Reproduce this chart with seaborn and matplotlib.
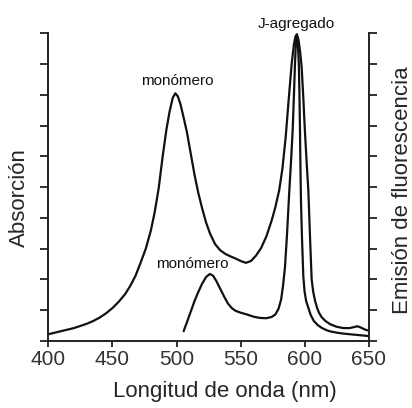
import numpy as np
import pandas as pd
import matplotlib
matplotlib.use("Agg")
import matplotlib.pyplot as plt
import seaborn as sns

# Absorption spectrum (wavelength nm, arbitrary units 0-10)
abs_wl = [400, 405, 410, 415, 420, 425, 430, 435, 440, 445, 450, 455, 460, 464, 468,
          472, 476, 480, 483, 486, 489, 492, 494.5, 497, 499, 501, 503, 505, 508, 511,
          514, 517, 520, 523, 526, 530, 534, 538, 542, 546, 550, 554, 558, 562, 566,
          570, 574, 577, 580, 582.5, 585, 587.5, 589.7, 591.5, 592.7, 593.8, 595,
          596.3, 597.5, 598.8, 600, 601.4, 602.7, 604, 605.3, 606.5, 608, 609.5, 611,
          613, 616, 620, 625, 630, 635, 638, 641, 644, 647, 650]
abs_val = [0.22, 0.27, 0.32, 0.37, 0.42, 0.49, 0.56, 0.65, 0.76, 0.9, 1.07, 1.28, 1.53, 1.8, 2.12,
           2.55, 3.0, 3.6, 4.2, 4.95, 5.95, 6.85, 7.45, 7.9, 8.05, 7.95, 7.7, 7.35, 6.8, 6.1,
           5.4, 4.8, 4.3, 3.85, 3.5, 3.15, 2.95, 2.83, 2.75, 2.68, 2.6, 2.54, 2.6, 2.78, 3.03,
           3.4, 3.9, 4.35, 4.9, 5.6, 6.6, 7.9, 9.0, 9.65, 9.9, 9.97, 9.8,
           9.4, 8.9, 7.9, 6.85, 5.8, 4.9, 3.4, 2.0, 1.6, 1.3, 1.08, 0.92,
           0.78, 0.65, 0.54, 0.46, 0.42, 0.42, 0.45, 0.48, 0.43, 0.37, 0.33]

# Fluorescence emission spectrum
em_wl = [505.5, 508, 511, 514, 517, 520, 523, 526, 528.5, 531, 534, 537, 540, 543, 546,
         550, 555, 560, 565, 570, 574, 577, 579.5, 581.5, 583, 584.5, 586, 587.9, 589.3,
         590.5, 591.5, 592.3, 593, 593.7, 594.5, 595.3, 595.8, 596.2, 596.6, 597, 597.8,
         598.8, 599.8, 601, 602.7, 604.5, 607, 610, 613, 617, 620, 625, 630, 635, 640,
         645, 650]
em_val = [0.32, 0.6, 0.95, 1.3, 1.6, 1.87, 2.08, 2.18, 2.12, 1.95, 1.7, 1.45, 1.22, 1.07, 0.98,
          0.92, 0.86, 0.79, 0.75, 0.74, 0.78, 0.86, 1.05, 1.35, 1.8, 2.4, 3.4, 4.9, 5.9,
          6.85, 8.0, 9.0, 9.7, 9.95, 9.7, 9.0, 8.0, 6.85, 5.5, 4.5, 3.3,
          2.1, 1.6, 1.3, 1.08, 0.85, 0.65, 0.52, 0.43, 0.35, 0.31, 0.27, 0.24, 0.22, 0.2,
          0.18, 0.16]

x_ticks = [400, 450, 500, 550, 600, 650]
y_ticks = list(range(0, 11))

labels = {"monomer_abs": "monómero", "monomer_em": "monómero", "jagg": "J-agregado"}

sns.set_style("ticks")
plt.rcParams['font.family'] = ['Liberation Sans', 'DejaVu Sans']

fig = plt.figure(figsize=(4.12, 4.08), dpi=100)
ax = fig.add_axes([48.3/412, 1-341/408, (369-48.3)/412, (341-33.3)/408])

df_abs = pd.DataFrame({"wl": abs_wl, "val": abs_val})
df_em = pd.DataFrame({"wl": em_wl, "val": em_val})
sns.lineplot(data=df_abs, x="wl", y="val", ax=ax, color="#111111", lw=1.6)
sns.lineplot(data=df_em, x="wl", y="val", ax=ax, color="#111111", lw=1.6)
for ln in ax.lines:
    ln.set_solid_joinstyle("round")

ax.set_xlim(400, 650)
ax.set_ylim(0, 10)
ax.set_xticks(x_ticks)
ax.set_yticks(y_ticks)
ax.set_yticklabels([])
ax.set_xlabel("")
ax.set_ylabel("")
ax.tick_params(axis="x", direction="out", length=4.5, width=1.3, colors="#222222",
               labelsize=15, labelcolor="#333333", pad=2)
ax.tick_params(axis="y", direction="out", length=5.5, width=1.3, colors="#222222",
               left=True, right=True)
for s in ["left", "right", "bottom"]:
    ax.spines[s].set_visible(True)
    ax.spines[s].set_linewidth(1.4)
    ax.spines[s].set_color("#222222")
ax.spines["top"].set_visible(False)

ax.text(500.7, 8.44, labels["monomer_abs"], ha="center", va="center", fontsize=11, color="#111111")
ax.text(512.4, 2.5, labels["monomer_em"], ha="center", va="center", fontsize=11, color="#111111")
ax.text(593.6, 10.29, labels["jagg"], ha="center", va="center", fontsize=11, color="#111111", clip_on=False)

fig.text(19.5/412, 1-198/408, "Absorción", rotation=90, ha="center", va="center", fontsize=16)
fig.text(402/412, 1-190/408, "Emisión de fluorescencia", rotation=90, ha="center", va="center", fontsize=16)
fig.text(224.5/412, 1-392/408, "Longitud de onda (nm)", ha="center", va="center", fontsize=16)

fig.savefig("out.png", dpi=100, facecolor="white")
